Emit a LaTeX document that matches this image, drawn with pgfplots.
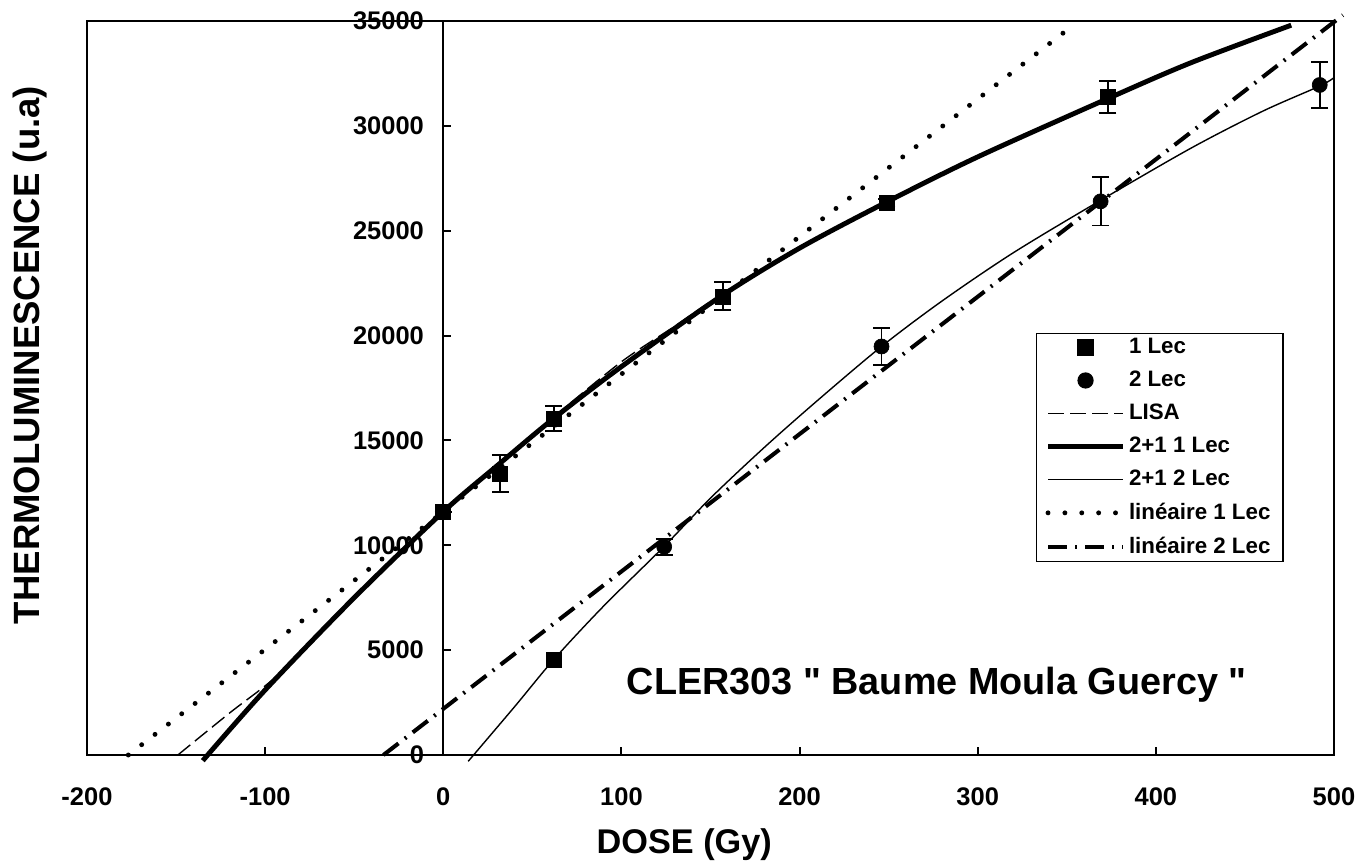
\documentclass[border=0pt]{standalone}
\usepackage{fontspec}
\setmainfont{Liberation Sans}
\newfontfamily\plainfont{Liberation Sans}[Ligatures=TeXOff]
\usepackage{pgfplots}
\pgfplotsset{compat=1.18}
\pgfplotsset{
    ptlegend/.style={legend image code/.code={\draw[##1] plot coordinates {(0.75cm,0cm)};}},
    lnlegend/.style={legend image code/.code={\draw[##1] (0cm,0cm) -- (1.5cm,0cm);}},
}

\begin{document}
\begin{tikzpicture}
\begin{axis}[
    scale only axis,
    width=24.94cm, height=14.68cm,
    xmin=-200, xmax=500, ymin=0, ymax=35000,
    axis x line=bottom,
    axis y line=center,
    axis line style={-},
    x axis line style={line width=1.7pt},
    y axis line style={line width=1.1pt},
    xtick={-200,-100,...,500},
    ytick={0,5000,...,35000},
    xtick align=inside,
    ytick align=inside,
    major tick length=0.16cm,
    tick style={line width=1.1pt, black},
    scaled y ticks=false,
    /pgf/number format/.cd, assume math mode=true, set thousands separator={},
    /pgfplots/.cd,
    ticklabel style={font=\fontsize{14.5}{17}\selectfont\bfseries, inner sep=0pt},
    xticklabel style={anchor=center, yshift=-0.84cm},
    yticklabel style={anchor=east, xshift=-0.38cm},
    hide obscured x ticks=false,
    hide obscured y ticks=false,
    xlabel={DOSE (Gy)},
    ylabel={THERMOLUMINESCENCE (u.a)},
    every axis x label/.style={at={(rel axis cs:0.479,0)}, anchor=center, yshift=-1.8cm,
        font=\fontsize{19.5}{22}\selectfont\bfseries},
    every axis y label/.style={at={(rel axis cs:0,0.545)}, anchor=center, rotate=90, yshift=1.14cm,
        font=\fontsize{20.8}{23}\selectfont\bfseries},
    clip=false,
    legend cell align=left,
    legend style={at={(rel axis cs:0.761,0.575)}, anchor=north west, draw=black, line width=0.7pt,
        font=\fontsize{12.7}{15}\selectfont\bfseries, row sep=0.155cm,
        inner xsep=0.18cm, inner ysep=0.03cm,
        /tikz/every even column/.append style={column sep=0.03cm}},
]

% measured points, 1 Lec
\addplot[only marks, mark=square*, mark size=0.15cm, black, ptlegend,
    error bars/.cd, y dir=both, y explicit,
    error bar style={line width=1.1pt},
    error mark options={rotate=90, mark size=0.17cm, line width=1.1pt}]
    table[x=x, y=y, y error=e] {
x   y     e
0   11600 0
32  13420 900
62  16050 600
157 21870 670
249 26350 150
373 31370 770
};
\addlegendentry{1 Lec}

% measured points, 2 Lec
\addplot[only marks, mark=*, mark size=0.15cm, black, ptlegend,
    error bars/.cd, y dir=both, y explicit,
    error bar style={line width=1.1pt},
    error mark options={rotate=90, mark size=0.17cm, line width=1.1pt}]
    table[x=x, y=y, y error=e] {
x   y     e
124 9930  380
246 19480 900
369 26400 1150
492 31950 1100
};
\addlegendentry{2 Lec}

% LISA
\addplot[black, line width=0.8pt, dash pattern=on 0.32cm off 0.12cm, smooth, lnlegend] coordinates {
(-149,0) (-120,2000) (-91,3950) (-50,7500) (0,11600) (31,13870) (62,16120)
(100,18750) (130,20450) (156,21950) (200,24170) (248,26330)
};
\addlegendentry{LISA}

% 2+1 1 Lec
\addplot[black, line width=2.8pt, smooth, lnlegend] coordinates {
(-135,-270) (-100,3100) (-50,7500) (0,11600) (31,13850) (62,16050) (100,18520)
(156,21880) (200,24170) (248,26330) (300,28520) (373,31300) (420,33020) (476,34800)
};
\addlegendentry{2+1 1 Lec}

% 2+1 2 Lec
\addplot[black, line width=0.8pt, smooth, lnlegend] coordinates {
(14,-300) (40,2300) (62,4550) (90,7100) (124,9950) (150,12250) (180,14650)
(210,16900) (246,19480) (280,21650) (320,23950) (369,26450) (420,28950)
(460,30700) (492,31900) (500,32300)
};
\addlegendentry{2+1 2 Lec}

% lineaire 1 Lec
\addplot[black, line width=2.8pt, line cap=round, dash pattern=on 0pt off 9.6pt, lnlegend] coordinates {
(-176.8,0) (350,34560)
};
\addlegendentry{linéaire 1 Lec}

% lineaire 2 Lec
\addplot[black, line width=2.3pt, dash pattern=on 0.38cm off 0.16cm on 0.04cm off 0.16cm, lnlegend] coordinates {
(-33.6,0) (505,35280)
};
\addlegendentry{linéaire 2 Lec}

% 2 Lec point drawn as a square in the original
\addplot[only marks, mark=square*, mark size=0.15cm, black, forget plot] coordinates {(62,4550)};

\draw[line width=1.3pt] (rel axis cs:0,0) rectangle (rel axis cs:1,1);
\node[font=\fontsize{21.5}{24}\selectfont\plainfont\bfseries] at (axis cs:277,3340) {CLER303 " Baume Moula Guercy "};
\path (rel axis cs:0,0) ++(-1.74cm,-2.24cm) rectangle ++(27.44cm,17.34cm);
\end{axis}
\end{tikzpicture}
\end{document}
